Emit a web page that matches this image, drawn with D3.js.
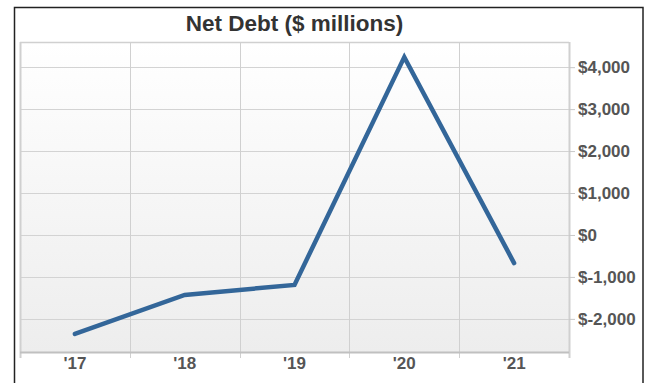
<!DOCTYPE html>
<html>
<head>
<meta charset="utf-8">
<script src="https://cdn.jsdelivr.net/npm/d3@7"></script>
<style>
  body { margin: 0; background: #fff; }
  svg { display: block; font-family: "Liberation Sans", Arial, sans-serif; }
</style>
</head>
<body>
<figure id="chart" style="margin:0"></figure>
<script>
// data
const years = ["'17", "'18", "'19", "'20", "'21"];
const netDebt = [-2360, -1430, -1190, 4240, -670];
const yTicks = [-2000, -1000, 0, 1000, 2000, 3000, 4000];

const W = 647, H = 383;
const plot = { left: 20, top: 42, right: 569, bottom: 352 };

const svg = d3.select("#chart")
  .append("svg")
  .attr("width", W)
  .attr("height", H);

// gradient for plot background
const defs = svg.append("defs");
const grad = defs.append("linearGradient")
  .attr("id", "bg")
  .attr("x1", 0).attr("y1", 0).attr("x2", 0).attr("y2", 1);
grad.append("stop").attr("offset", "0%").attr("stop-color", "#ffffff");
grad.append("stop").attr("offset", "100%").attr("stop-color", "#ededed");

// outer frame
svg.append("rect")
  .attr("x", 14.5).attr("y", 7.5)
  .attr("width", 643 - 14.5).attr("height", H)
  .attr("fill", "#fff")
  .attr("stroke", "#222")
  .attr("stroke-width", 1.5);

const x = d3.scaleBand()
  .domain(years)
  .range([plot.left, plot.right]);

const y = d3.scaleLinear()
  .domain([-2790, 4600])
  .range([plot.bottom, plot.top]);

svg.append("rect")
  .attr("x", plot.left).attr("y", plot.top)
  .attr("width", plot.right - plot.left)
  .attr("height", plot.bottom - plot.top)
  .attr("fill", "url(#bg)");

// horizontal grid
svg.append("g")
  .selectAll("line")
  .data(yTicks)
  .enter()
  .append("line")
  .attr("x1", plot.left).attr("x2", plot.right)
  .attr("y1", d => Math.round(y(d)) + 0.5)
  .attr("y2", d => Math.round(y(d)) + 0.5)
  .attr("stroke", "#d3d3d3");

// vertical grid at band edges
const edges = years.map(d => x(d)).concat([plot.right]);
svg.append("g")
  .selectAll("line")
  .data(edges)
  .enter()
  .append("line")
  .attr("x1", d => Math.round(d) + 0.5).attr("x2", d => Math.round(d) + 0.5)
  .attr("y1", plot.top).attr("y2", plot.bottom + 6)
  .attr("stroke", "#d0d0d0")
  .attr("stroke-width", d => (d === plot.left || d === plot.right) ? 2 : 1);

// top border of plot
svg.append("line")
  .attr("x1", plot.left).attr("x2", plot.right)
  .attr("y1", plot.top + 0.5).attr("y2", plot.top + 0.5)
  .attr("stroke", "#d0d0d0").attr("stroke-width", 1.5);

// right axis
const yAxis = svg.append("g")
  .attr("transform", "translate(" + plot.right + ",0)")
  .call(d3.axisRight(y)
    .tickValues(yTicks)
    .tickSize(6)
    .tickPadding(3)
    .tickFormat(d => (d < 0 ? "$-" : "$") + d3.format(",")(Math.abs(d))));
yAxis.select(".domain").remove();
yAxis.selectAll("line").attr("stroke", "#c8c8c8");
yAxis.selectAll("text")
  .attr("fill", "#555")
  .style("font-size", "17px")
  .style("font-weight", "bold")
  .style("font-family", "'Liberation Sans', Arial, sans-serif");

// bottom axis
svg.append("line")
  .attr("x1", plot.left).attr("x2", plot.right)
  .attr("y1", plot.bottom + 0.5).attr("y2", plot.bottom + 0.5)
  .attr("stroke", "#c0c0c0").attr("stroke-width", 2);

const xAxis = svg.append("g")
  .attr("transform", "translate(0," + plot.bottom + ")")
  .call(d3.axisBottom(x).tickSize(0).tickPadding(5));
xAxis.select(".domain").remove();
xAxis.selectAll("text")
  .attr("fill", "#555")
  .style("font-size", "17px")
  .style("font-weight", "bold")
  .style("font-family", "'Liberation Sans', Arial, sans-serif");

// line
const line = d3.line()
  .x((d, i) => x(years[i]) + x.bandwidth() / 2)
  .y(d => y(d));

svg.append("path")
  .datum(netDebt)
  .attr("d", line)
  .attr("fill", "none")
  .attr("stroke", "#336699")
  .attr("stroke-width", 4.5)
  .attr("stroke-linejoin", "miter")
  .attr("stroke-linecap", "round");

// title
svg.append("text")
  .attr("x", (plot.left + plot.right) / 2)
  .attr("y", 31)
  .attr("text-anchor", "middle")
  .attr("fill", "#333")
  .style("font-size", "22.5px")
  .style("font-weight", "bold")
  .text("Net Debt ($ millions)");
</script>
</body>
</html>
